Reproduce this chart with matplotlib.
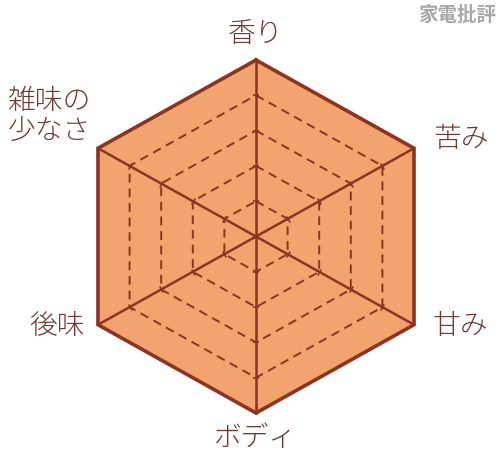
import numpy as np
import matplotlib
matplotlib.use("Agg")
import matplotlib.pyplot as plt

plt.rcParams['font.family'] = ['Noto Sans CJK JP', 'DejaVu Sans']

categories = ["香り", "苦み", "甘み", "ボディ", "後味", "雑味の\n少なさ"]
values = [5, 5, 5, 5, 5, 5]
max_value = 5
grid_levels = [1, 2, 3, 4]
watermark = "家電批評"

FILL = "#F3A36D"
LINE = "#8C3322"
TEXT = "#6E3A36"

n = len(categories)
angles = np.arange(n) * 2 * np.pi / n  # clockwise from top

def to_xy(r, a):
    return r * np.sin(a), r * np.cos(a)

fig = plt.figure(figsize=(5.0, 4.67), dpi=100)
ax = fig.add_axes([0, 0, 1, 1])
ax.set_axis_off()

sx = 36.49  # px per unit x
sy = 35.3   # px per unit y
ax.set_xlim(-256 / sx, 244 / sx)
ax.set_ylim(-230.5 / sy, 236.5 / sy)

# data polygon
vx, vy = to_xy(np.array(values, dtype=float), angles)
ax.fill(vx, vy, color=FILL, zorder=1, lw=0)

# dashed grid rings
for lv in grid_levels:
    gx, gy = to_xy(np.full(n + 1, lv, dtype=float), np.append(angles, angles[0]))
    ax.plot(gx, gy, color=LINE, lw=1.4, ls=(0, (4.5, 3)), zorder=2)

# spokes
for a in angles:
    ex, ey = to_xy(max_value, a)
    ax.plot([0, ex], [0, ey], color=LINE, lw=1.8, zorder=3)
    # small ticks at ring intersections
    for lv in grid_levels:
        px, py = to_xy(lv, a)
        ax.plot([px], [py], marker=(2, 0, -np.degrees(a) + 90), ms=5,
                mew=1.2, color=LINE, zorder=3)

# outline
ox, oy = to_xy(np.append(values, values[0]).astype(float), np.append(angles, angles[0]))
ax.plot(ox, oy, color=LINE, lw=2.6, zorder=4, solid_joinstyle='miter')

# labels (pixel positions converted to data)
label_px = [(256, 34), (461, 139), (460, 326), (256, 438), (57, 326), (49, 116)]
for lab, (px, py) in zip(categories, label_px):
    x = (px - 256) / sx
    y = (236.5 - py) / sy
    ax.text(x, y, lab, ha="center", va="center", fontsize=20, color=TEXT,
            fontweight="light", linespacing=1.1)

fig.text(457 / 500, 1 - 15 / 467, watermark, ha="center", va="center",
         fontsize=14, color="#a8a8a8", fontweight="bold")

fig.savefig("out.png", dpi=100, facecolor="white")
